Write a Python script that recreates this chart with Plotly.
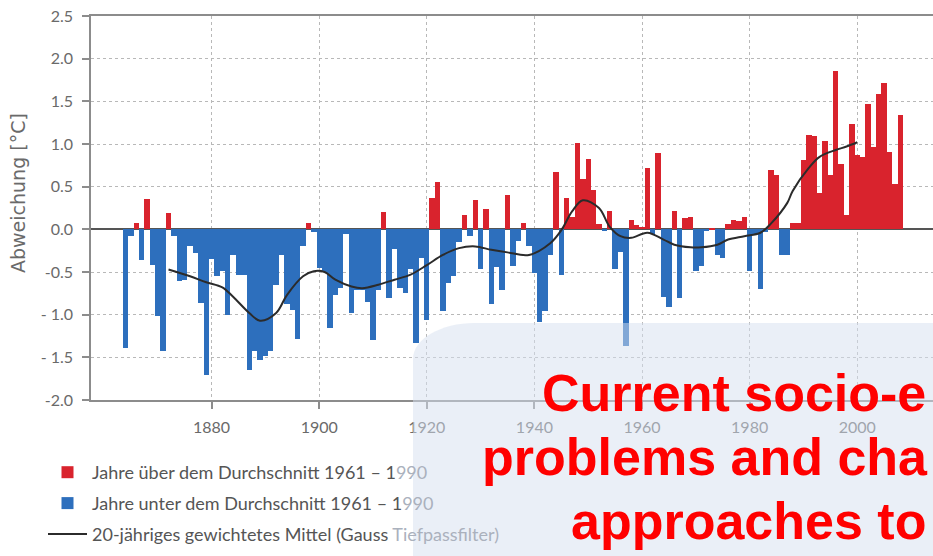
import plotly.graph_objects as go

# ---------------- data ----------------
years = list(range(1864, 2009))
anomaly = [
    -1.39, -0.08, 0.07, -0.36, 0.36, -0.42, -1.02, -1.42, 0.19, -0.08,   # 1864-1873
    -0.61, -0.59, -0.20, -0.28, -0.86, -1.71, -0.35, -0.55, -0.49, -1.00,  # 1874-1883
    -0.30, -0.53, -0.53, -1.65, -1.43, -1.53, -1.49, -1.43, -0.65, -0.30,  # 1884-1893
    -0.88, -0.95, -1.28, -0.20, 0.08, -0.03, -0.45, -0.50, -1.16, -0.77,   # 1894-1903
    -0.69, -0.05, -0.98, -0.71, -0.71, -0.85, -1.30, -0.71, 0.20, -0.81,   # 1904-1913
    -0.23, -0.69, -0.75, -0.46, -1.33, -0.34, -1.06, 0.37, 0.55, -0.96,    # 1914-1923
    -0.63, -0.55, -0.15, 0.17, -0.08, 0.34, -0.47, 0.24, -0.87, -0.44,     # 1924-1933
    -0.71, 0.40, -0.43, -0.14, 0.08, -0.19, -0.51, -1.09, -0.96, -0.30,    # 1934-1943
    0.67, -0.53, 0.37, 0.15, 1.01, 0.59, 0.83, 0.46, 0.06, -0.02,          # 1944-1953
    0.22, -0.46, -0.27, -1.37, 0.11, 0.05, 0.03, 0.72, -0.05, 0.90,        # 1954-1963
    -0.79, -0.91, 0.22, -0.81, 0.13, 0.14, -0.49, -0.43, -0.02, 0.02,      # 1964-1973
    -0.30, -0.34, 0.06, 0.11, 0.10, 0.15, -0.49, -0.05, -0.70, -0.03,      # 1974-1983
    0.70, 0.64, -0.30, -0.30, 0.08, 0.08, 0.81, 1.11, 1.09, 0.43,          # 1984-1993
    1.03, 0.64, 1.86, 0.76, 0.17, 1.23, 0.87, 0.85, 1.47, 0.96,            # 1994-2003
    1.59, 1.72, 0.91, 0.53, 1.34,                                          # 2004-2008
]
assert len(anomaly) == len(years)

smooth_years = [1872, 1876, 1879, 1882, 1884, 1887, 1889, 1892, 1894, 1897,
                1899, 1901, 1903, 1906, 1908, 1911, 1914, 1917, 1920, 1923,
                1926, 1929, 1932, 1935, 1939, 1943, 1945, 1947, 1949, 1952,
                1954, 1956, 1958, 1961, 1964, 1966, 1969, 1971, 1974, 1976,
                1979, 1982, 1984, 1987, 1988, 1991, 1993, 1996, 1998, 2000]
smooth_vals = [-0.47, -0.55, -0.62, -0.68, -0.79, -0.98, -1.07, -0.98, -0.77, -0.55,
               -0.49, -0.50, -0.59, -0.67, -0.69, -0.65, -0.59, -0.53, -0.42, -0.30,
               -0.22, -0.20, -0.24, -0.27, -0.30, -0.16, -0.01, 0.21, 0.34, 0.25,
               0.03, -0.08, -0.10, -0.04, -0.12, -0.18, -0.21, -0.21, -0.18, -0.12,
               -0.08, -0.04, 0.07, 0.31, 0.45, 0.72, 0.85, 0.93, 0.97, 1.02]

ytick_vals = [-2.0, -1.5, -1.0, -0.5, 0.0, 0.5, 1.0, 1.5, 2.0, 2.5]
ytick_text = ["-2.0", "- 1.5", "- 1.0", "-0.5", "0.0", "0.5", "1.0", "1.5", "2.0", "2.5"]
xtick_vals = [1880, 1900, 1920, 1940, 1960, 1980, 2000]

FADE = "#aab1bd"
legend_names = [
    "Jahre über dem Durchschnitt 1961 – 1<span style='color:%s'>990</span>" % FADE,
    "Jahre unter dem Durchschnitt 1961 – 1<span style='color:%s'>990</span>" % FADE,
    "20-jähriges gewichtetes Mittel (Gauss<span style='color:%s'> Tiefpassfilter)</span>" % FADE,
]
y_title = "Abweichung [°C]"
overlay_lines = ["Current socio-e", "problems and cha", "approaches to"]

# ---------------- figure ----------------
RED = "#d9232d"
BLUE = "#2d6fbd"

up_x = [y for y, v in zip(years, anomaly) if v >= 0]
up_y = [v for v in anomaly if v >= 0]
dn_x = [y for y, v in zip(years, anomaly) if v < 0]
dn_y = [v for v in anomaly if v < 0]

fig = go.Figure()
fig.add_trace(go.Bar(x=up_x, y=up_y, width=1.0, marker=dict(color=RED, line=dict(width=0)),
                     name=legend_names[0], legendgroup="a"))
fig.add_trace(go.Bar(x=dn_x, y=dn_y, width=1.0, marker=dict(color=BLUE, line=dict(width=0)),
                     name=legend_names[1], legendgroup="b"))
fig.add_trace(go.Scatter(x=smooth_years, y=smooth_vals, mode="lines",
                         line=dict(color="#2b2b2b", width=2, shape="spline", smoothing=1.0),
                         name=legend_names[2], legendgroup="c"))

W, H = 933, 556
ML, MR, MT, MB = 91, 0, 16, 156
pw, ph = W - ML - MR, H - MT - MB

def px(x):
    return (x - ML) / pw

def py(y):
    return (H - MB - y) / ph

TICKFONT = dict(family="Lato, Liberation Sans, sans-serif", size=16, color="#6a6a6a")

fig.update_layout(
    width=W, height=H,
    margin=dict(l=ML, r=MR, t=MT, b=MB, autoexpand=False),
    paper_bgcolor="white", plot_bgcolor="white",
    barmode="overlay", bargap=0,
    showlegend=True,
    legend=dict(x=px(43), y=py(454), xanchor="left", yanchor="top",
                bgcolor="rgba(0,0,0,0)", traceorder="grouped", tracegroupgap=4.5,
                itemwidth=39,
                font=dict(family="Lato, Liberation Sans, sans-serif", size=18, color="#555555")),
    xaxis=dict(range=[1857.59, 2014.08], tickvals=xtick_vals, showgrid=True,
               gridcolor="#b8b8b8", griddash="dot", gridwidth=1,
               showline=True, linecolor="#8c8c8c", linewidth=1.5, mirror=True,
               ticks="outside", ticklen=7, tickcolor="#8c8c8c", tickwidth=1.5,
               ticklabelstandoff=5, tickfont=TICKFONT, zeroline=False, automargin=False),
    yaxis=dict(range=[-2.0, 2.5], tickvals=ytick_vals, ticktext=ytick_text, showgrid=True,
               gridcolor="#b8b8b8", griddash="dot", gridwidth=1,
               showline=True, linecolor="#8c8c8c", linewidth=1.5,
               ticks="outside", ticklen=7, tickcolor="#8c8c8c", tickwidth=1.5,
               ticklabelstandoff=6, tickfont=TICKFONT,
               zeroline=True, zerolinecolor="#555555", zerolinewidth=1.5,
               automargin=False),
)

# y-axis title (placed like the reference, slightly above the plot's centre)
fig.add_annotation(text=y_title, x=px(18), y=py(193), xref="paper", yref="paper",
                   xanchor="center", yanchor="middle", textangle=-90, showarrow=False,
                   font=dict(family="DejaVu Sans, sans-serif", size=19, color="#6a6a6a"))

# translucent rounded panel overlay (bottom right)
x0, xr = px(413), px(945)
yt, yb = py(323), py(570)
rx, ry = 62 / pw, 36 / ph
k = 0.5523
path = (f"M {x0},{yb} L {x0},{yt - ry} "
        f"C {x0},{yt - ry + k * ry} {x0 + rx - k * rx},{yt} {x0 + rx},{yt} "
        f"L {xr},{yt} L {xr},{yb} Z")
fig.add_shape(type="path", path=path, xref="paper", yref="paper",
              fillcolor="rgba(213,223,239,0.5)", line=dict(width=0), layer="above")

line_pos = [(541, 393), (481, 457), (570, 521)]
for txt, (lx, ly) in zip(overlay_lines, line_pos):
    fig.add_annotation(text="<b>" + txt + "</b>", x=px(lx), y=py(ly), xref="paper", yref="paper",
                       xanchor="left", yanchor="middle", showarrow=False,
                       font=dict(family="Liberation Sans, Arial, sans-serif", size=52, color="#ff0000"),
                       borderpad=0)

fig.write_html("out.html", config={"displayModeBar": False},
               post_script="document.body.style.margin='0';document.body.style.overflow='hidden';")
